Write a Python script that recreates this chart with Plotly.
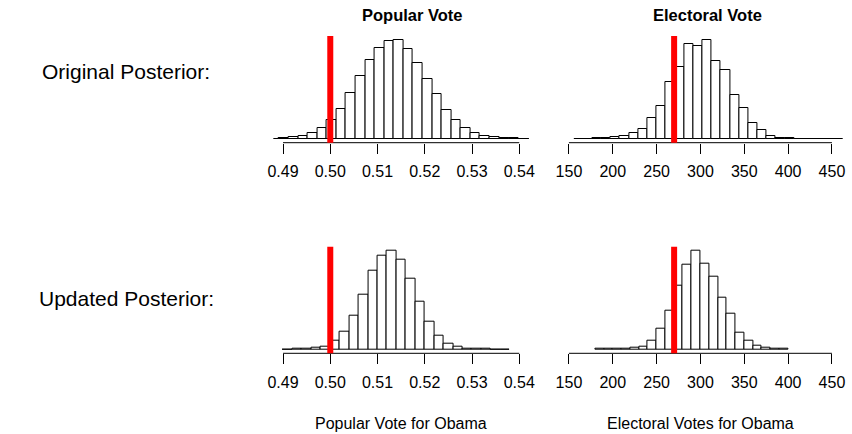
import plotly.graph_objects as go

# ---------------- data ----------------
# Original posterior, popular vote share (bin start, bin width, frequencies)
pv_orig_start = 0.48713
pv_orig_width = 0.0020255
pv_orig_counts = [0.5, 1.5, 5, 9, 16, 33, 57, 90, 138, 187, 236, 272, 291, 295,
                  267, 225, 177, 135, 86, 55, 32, 17, 9, 4, 2, 1, 0.5, 0.3]

# Original posterior, electoral votes
ev_orig_start = 155.775
ev_orig_width = 10.4625
ev_orig_counts = [0.5, 0.5, 1, 2, 5, 9, 16, 28, 61, 98, 170, 213, 281, 277, 294,
                  232, 204, 131, 93, 48, 27, 9, 3, 1, 0.5, 0.5, 0.3, 0.3, 0.3, 0.3]

# Updated posterior, popular vote share
pv_upd_start = 0.490
pv_upd_width = 0.002
pv_upd_counts = [0.3, 0.5, 1.5, 4, 9, 26, 53, 100, 163, 234, 280, 295, 269, 210,
                 141, 84, 42, 18, 7, 3, 1, 0.5, 0.3, 0.2]

# Updated posterior, electoral votes
ev_upd_start = 180
ev_upd_width = 10
ev_upd_counts = [0.5, 0.5, 1, 2, 4, 9, 26, 61, 115, 190, 251, 294, 255, 217, 155,
                 105, 50, 25, 10, 5, 2, 1]

pv_ticks = [0.49, 0.50, 0.51, 0.52, 0.53, 0.54]
pv_ticklabels = ["0.49", "0.50", "0.51", "0.52", "0.53", "0.54"]
ev_ticks = [150, 200, 250, 300, 350, 400, 450]
ev_ticklabels = ["150", "200", "250", "300", "350", "400", "450"]

pv_threshold = 0.50
ev_threshold = 270

pv_xlim = [0.49, 0.54]
ev_xlim = [150, 450]

col_titles = ["Popular Vote", "Electoral Vote"]
row_titles = ["Original Posterior:", "Updated Posterior:"]
x_titles = ["Popular Vote for Obama", "Electoral Votes for Obama"]

# ---------------- figure ----------------
W, H = 852, 434
FONT = "Liberation Sans, Arial, Helvetica, sans-serif"

def px_x(p):
    return p / W

def px_y(p):
    return 1 - p / H

left_dom = [px_x(271.4), px_x(530.2)]
right_dom = [px_x(560.3), px_x(848.4)]
top_dom = [px_y(142.7), px_y(36.0)]
bot_dom = [px_y(353.3), px_y(246.7)]

def ext(lim):
    d = (lim[1] - lim[0]) * 0.04
    return [lim[0] - d, lim[1] + d]

panels = [
    (pv_orig_start, pv_orig_width, pv_orig_counts, "x", "y", left_dom, top_dom, pv_xlim, pv_ticks, pv_ticklabels, pv_threshold),
    (ev_orig_start, ev_orig_width, ev_orig_counts, "x2", "y2", right_dom, top_dom, ev_xlim, ev_ticks, ev_ticklabels, ev_threshold),
    (pv_upd_start, pv_upd_width, pv_upd_counts, "x3", "y3", left_dom, bot_dom, pv_xlim, pv_ticks, pv_ticklabels, pv_threshold),
    (ev_upd_start, ev_upd_width, ev_upd_counts, "x4", "y4", right_dom, bot_dom, ev_xlim, ev_ticks, ev_ticklabels, ev_threshold),
]

fig = go.Figure()
layout = dict(
    width=W, height=H,
    margin=dict(l=0, r=0, t=0, b=0),
    paper_bgcolor="white", plot_bgcolor="white",
    showlegend=False,
    bargap=0,
    font=dict(family=FONT, color="black"),
)
shapes = []
annotations = []

for (start, width, counts, xa, ya, xdom, ydom, xlim, ticks, labels, thr) in panels:
    centers = [start + width * (i + 0.5) for i in range(len(counts))]
    fig.add_trace(go.Bar(
        x=centers, y=counts, width=[width] * len(counts),
        xaxis=xa, yaxis=ya,
        marker=dict(color="white", line=dict(color="black", width=1)),
        hoverinfo="skip",
    ))
    M = max(counts)
    xkey = "xaxis" + xa[1:]
    ykey = "yaxis" + ya[1:]
    layout[xkey] = dict(
        domain=xdom, range=ext(xlim), anchor=ya,
        showgrid=False, zeroline=False, showline=False,
        tickmode="array", tickvals=ticks, ticktext=labels,
        ticks="outside", ticklen=10, tickwidth=1, tickcolor="black",
        tickfont=dict(size=16, family=FONT, color="black"),
        ticklabelstandoff=4,
    )
    layout[ykey] = dict(
        domain=ydom, range=[-0.04 * M, 1.04 * M], anchor=xa,
        visible=False, showgrid=False, zeroline=False,
    )
    shapes.append(dict(type="line", xref=xa, yref=ya + " domain",
                       x0=ticks[0], x1=ticks[-1], y0=0, y1=0,
                       line=dict(color="black", width=1), layer="above"))
    shapes.append(dict(type="line", xref=xa, yref=ya + " domain",
                       x0=thr, x1=thr, y0=0, y1=1,
                       line=dict(color="#FF0000", width=6), layer="above"))

for txt, cx in zip(col_titles, [412, 712]):
    annotations.append(dict(text="<b>" + txt + "</b>", x=px_x(cx), y=px_y(15),
                            xref="paper", yref="paper", showarrow=False,
                            xanchor="center", yanchor="middle",
                            font=dict(size=16.5, family=FONT, color="black")))
for txt, yy in zip(row_titles, [72, 298]):
    annotations.append(dict(text=txt, x=px_x(122), y=px_y(yy),
                            xref="paper", yref="paper", showarrow=False,
                            xanchor="center", yanchor="middle",
                            font=dict(size=21, family=FONT, color="black")))
for txt, dom in zip(x_titles, [left_dom, right_dom]):
    annotations.append(dict(text=txt, x=(dom[0] + dom[1]) / 2, y=px_y(423),
                            xref="paper", yref="paper", showarrow=False,
                            xanchor="center", yanchor="middle",
                            font=dict(size=16, family=FONT, color="black")))

layout["shapes"] = shapes
layout["annotations"] = annotations
fig.update_layout(**layout)

fig.write_html("out.html", config={"displayModeBar": False},
               post_script="document.body.style.margin='0';document.body.style.overflow='hidden';")
